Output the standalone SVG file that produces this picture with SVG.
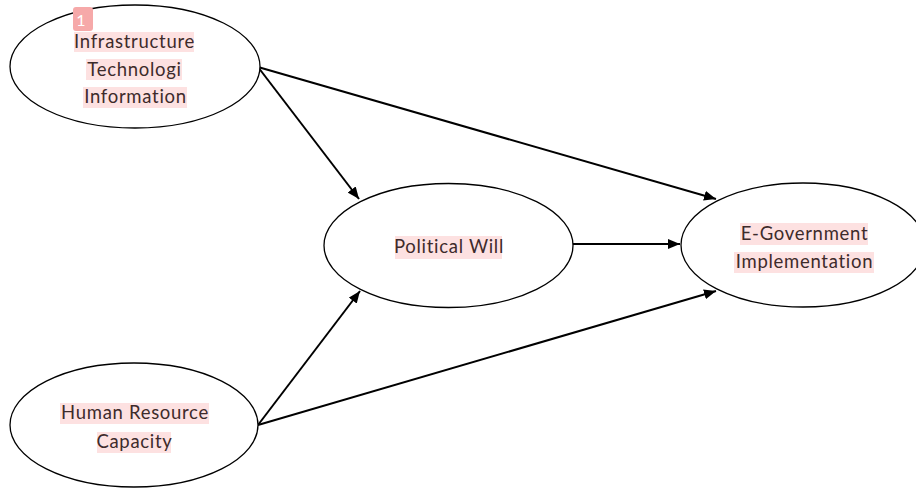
<svg xmlns="http://www.w3.org/2000/svg" width="916" height="489" viewBox="0 0 916 489">
<style>
.node ellipse{fill:#fff;stroke:#000;stroke-width:1.3}
.hl{fill:#fde1e1}
.lbl{font-family:Lato,"Open Sans","Liberation Sans",sans-serif;font-size:18.5px;letter-spacing:0.7px;font-variant-ligatures:none;fill:#3d2b2b;text-anchor:middle}
.conn line{stroke:#000;stroke-width:2;fill:none}
</style>
<defs>
<marker id="ah" viewBox="0 0 12 10" refX="12" refY="5" markerWidth="12" markerHeight="10" markerUnits="userSpaceOnUse" orient="auto">
<path d="M0,0 L12,5 L0,10 z" fill="#000"/>
</marker>
</defs>
<rect width="916" height="489" fill="#fff"/>
<g id="connectors" class="conn">
<line x1="258" y1="67" x2="359" y2="199" marker-end="url(#ah)"/>
<line x1="258" y1="67" x2="716" y2="199" marker-end="url(#ah)"/>
<line x1="573" y1="244" x2="680" y2="244" marker-end="url(#ah)"/>
<line x1="258" y1="425" x2="360" y2="291" marker-end="url(#ah)"/>
<line x1="258" y1="425" x2="716" y2="291" marker-end="url(#ah)"/>
</g>
<g id="infrastructure" class="node">
<ellipse cx="135" cy="66.5" rx="125" ry="61.5"/>
<rect class="hl" x="74" y="32" width="120" height="20"/>
<rect class="hl" x="86" y="59" width="96" height="21"/>
<rect class="hl" x="83" y="87" width="104" height="21"/>
<text class="lbl" x="134.5" y="48">Infrastructure</text>
<text class="lbl" x="134.5" y="76">Technologi</text>
<text class="lbl" x="135.5" y="103">Information</text>
<rect x="73" y="7" width="20" height="24" rx="3" fill="#f6a9a9"/>
<text x="81" y="26" font-family="Lato,'Liberation Sans',sans-serif" font-size="16" fill="#fff" text-anchor="middle">1</text>
</g>
<g id="political-will" class="node">
<ellipse cx="448.5" cy="245.5" rx="124.5" ry="62"/>
<rect class="hl" x="395" y="236" width="107" height="23"/>
<text class="lbl" x="449" y="253">Political Will</text>
</g>
<g id="e-government" class="node">
<ellipse cx="803" cy="245" rx="122" ry="62"/>
<rect class="hl" x="740" y="223" width="128" height="22"/>
<rect class="hl" x="734" y="252" width="140" height="21"/>
<text class="lbl" x="804.5" y="240">E-Government</text>
<text class="lbl" x="804.5" y="268">Implementation</text>
</g>
<g id="human-resource" class="node">
<ellipse cx="134" cy="425" rx="124" ry="62"/>
<rect class="hl" x="60" y="403" width="149" height="21"/>
<rect class="hl" x="97" y="432" width="74" height="21"/>
<text class="lbl" x="135" y="419">Human Resource</text>
<text class="lbl" x="134.5" y="448">Capacity</text>
</g>
</svg>
